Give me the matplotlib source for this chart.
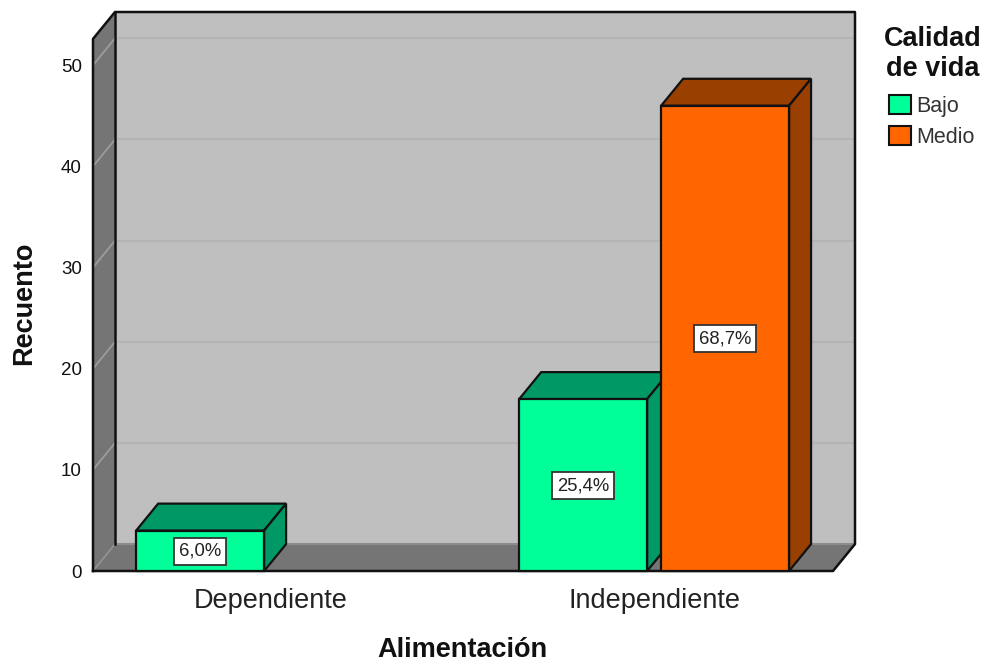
import numpy as np
import matplotlib
matplotlib.use('Agg')
import matplotlib.pyplot as plt
from matplotlib.patches import Patch

plt.rcParams['font.family'] = ['Liberation Sans', 'DejaVu Sans']

categories = ['Dependiente', 'Independiente']
bajo_counts = [4, 17]
medio_counts = [0, 46]
bajo_labels = ['6,0%', '25,4%']
medio_labels = ['', '68,7%']
y_ticks = [0, 10, 20, 30, 40, 50]

GREEN = '#00FF99'
GREEN_DARK = '#009966'
ORANGE = '#FF6600'
ORANGE_DARK = '#994000'
WALL = '#BFBFBF'
SIDE = '#757575'
EDGE = '#111111'

# front plane limits in data units, depth is the 3d offset of the box
x_min, x_max = -0.465, 1.467
y_max = 52.6
dx, dy = 0.0574, 2.66
bar_w = 0.334
gap = 0.0366


def draw_box(ax, x, h, color, dark):
    # front face goes through bar, top and side are polygons behind it
    ax.fill([x, x + dx, x + bar_w + dx, x + bar_w],
            [h, h + dy, h + dy, h],
            facecolor=dark, edgecolor=EDGE, lw=1.6, zorder=5, clip_on=False)
    ax.fill([x + bar_w, x + bar_w + dx, x + bar_w + dx, x + bar_w],
            [0, dy, h + dy, h],
            facecolor=dark, edgecolor=EDGE, lw=1.6, zorder=5, clip_on=False)
    ax.bar(x, h, width=bar_w, align='edge', color=color, edgecolor=EDGE,
           lw=1.6, zorder=5, clip_on=False)


def draw_label(ax, x, h, txt):
    ax.text(x + bar_w / 2, h / 2 - 0.05, txt, ha='center', va='center', fontsize=13.3,
            color='#222222', zorder=6,
            bbox=dict(boxstyle='square,pad=0.27', facecolor='white',
                      edgecolor='#333333', lw=1.3))


fig = plt.figure(figsize=(9.86, 6.65), dpi=100)
# axes covers the front plane and the depth, 93..855 px and 12..571 px
ax = fig.add_axes([93 / 986, 1 - 571 / 665, (855 - 93) / 986, (571 - 12) / 665])
ax.set_xlim(x_min, x_max + dx)
ax.set_ylim(0, y_max + dy)
for s in ax.spines.values():
    s.set_visible(False)

# back wall
ax.fill([x_min + dx, x_max + dx, x_max + dx, x_min + dx],
        [dy, dy, y_max + dy, y_max + dy], facecolor=WALL, edgecolor='none', zorder=1)
# left wall
ax.fill([x_min, x_min + dx, x_min + dx, x_min],
        [0, dy, y_max + dy, y_max], facecolor=SIDE, edgecolor='none', zorder=1)
# floor
ax.fill([x_min, x_max, x_max + dx, x_min + dx],
        [0, 0, dy, dy], facecolor=SIDE, edgecolor='none', zorder=1)

for t in y_ticks[1:]:
    ax.plot([x_min + dx, x_max + dx], [t + dy, t + dy], color='#B4B4B4', lw=1.5, zorder=2)
    ax.plot([x_min, x_min + dx], [t, t + dy], color='#9C9C9C', lw=1.3, zorder=2)
ax.plot([x_min, x_min + dx], [0, dy], color='#989898', lw=1, zorder=2)
ax.plot([x_min + dx, x_max + dx], [dy, dy], color='#8C8C8C', lw=1.5, zorder=2)

# outlines of the box
ax.plot([x_min, x_min, x_min + dx, x_max + dx, x_max + dx, x_max, x_min],
        [0, y_max, y_max + dy, y_max + dy, dy, 0, 0],
        color=EDGE, lw=1.8, zorder=3, clip_on=False)
ax.plot([x_min + dx, x_min + dx], [dy, y_max + dy], color=EDGE, lw=1.8, zorder=3)

centers = np.arange(len(categories))
for i in centers:
    x_bajo = i - gap / 2 - bar_w
    x_medio = i + gap / 2
    if bajo_counts[i] > 0:
        draw_box(ax, x_bajo, bajo_counts[i], GREEN, GREEN_DARK)
        draw_label(ax, x_bajo, bajo_counts[i], bajo_labels[i])
    if medio_counts[i] > 0:
        draw_box(ax, x_medio, medio_counts[i], ORANGE, ORANGE_DARK)
        draw_label(ax, x_medio, medio_counts[i], medio_labels[i])

ax.set_xticks(centers)
ax.set_xticklabels(categories, fontsize=19.5, color='#222222')
ax.set_yticks(y_ticks)
ax.set_yticklabels([str(t) for t in y_ticks], fontsize=13.5, color='#111111')
ax.tick_params(axis='x', length=0, pad=12)
ax.tick_params(axis='y', length=0, pad=8)

ax.set_xlabel('Alimentación', fontsize=19.5, fontweight='bold', color='#111111')
ax.xaxis.set_label_coords((462 - 93) / (855 - 93), -(650 - 571) / (571 - 12), transform=ax.transAxes)
ax.xaxis.label.set_va('center')
ax.set_ylabel('Recuento', fontsize=19.5, fontweight='bold', color='#111111')
ax.yaxis.set_label_coords((24 - 93) / (855 - 93), (571 - 303) / (571 - 12), transform=ax.transAxes)
ax.yaxis.label.set_va('center')

fig.text(933 / 986, 1 - 54 / 665, 'Calidad\nde vida', ha='center', va='center',
         fontsize=19.5, fontweight='bold', color='#111111', linespacing=1.17)

handles = [Patch(facecolor=GREEN, edgecolor=EDGE, lw=1.5, label='Bajo'),
           Patch(facecolor=ORANGE, edgecolor=EDGE, lw=1.5, label='Medio')]
leg = fig.legend(handles=handles, loc='upper left',
                 bbox_to_anchor=(889 / 986, 1 - 95 / 665), frameon=False,
                 fontsize=15.5, handlelength=1.0, handleheight=1.0, handletextpad=0.28,
                 labelspacing=0.4, borderpad=0, borderaxespad=0)
for t in leg.get_texts():
    t.set_color('#333333')

fig.savefig('out.png', dpi=100)
